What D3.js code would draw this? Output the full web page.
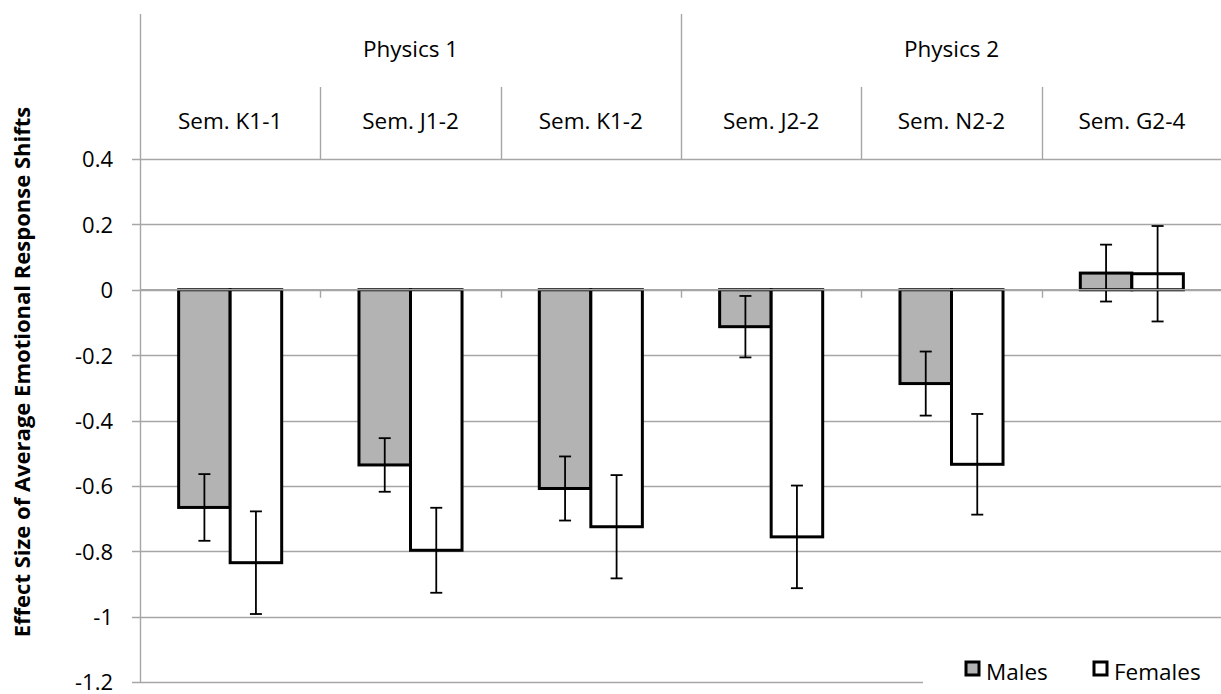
<!DOCTYPE html>
<html>
<head>
<meta charset="utf-8">
<script src="https://cdn.jsdelivr.net/npm/d3@7"></script>
<style>
  html, body { margin: 0; padding: 0; background: #fff; }
  svg { display: block; font-family: "Open Sans", sans-serif; }
</style>
</head>
<body>
<script>
const categories = ["Sem. K1-1", "Sem. J1-2", "Sem. K1-2", "Sem. J2-2", "Sem. N2-2", "Sem. G2-4"];
const groupNames = ["Physics 1", "Physics 2"];
const groupOf = [0, 0, 0, 1, 1, 1];
const seriesNames = ["Males", "Females"];
const males = [-0.666, -0.536, -0.608, -0.113, -0.287, 0.051];
const malesErr = [0.102, 0.082, 0.098, 0.094, 0.098, 0.087];
const females = [-0.835, -0.797, -0.725, -0.756, -0.534, 0.049];
const femalesErr = [0.157, 0.130, 0.158, 0.157, 0.154, 0.146];
const yTicks = [0.4, 0.2, 0, -0.2, -0.4, -0.6, -0.8, -1, -1.2];
const yTitle = "Effect Size of Average Emotional Response Shifts";

const W = 1221, H = 694;
const plotLeft = 140, plotRight = 1222, plotTop = 159, plotBottom = 682, headTop = 14;
const gridColor = "#a6a6a6";
const fills = { Males: "#b3b3b3", Females: "#ffffff" };

const svg = d3.select("body").append("svg")
    .attr("width", W)
    .attr("height", H);

const x = d3.scaleBand().domain(categories).range([plotLeft, plotRight]);
const xs = d3.scaleBand().domain(seriesNames).range([0, x.bandwidth()]).paddingOuter(0.75);
const y = d3.scaleLinear().domain([-1.2, 0.4]).range([plotBottom, plotTop]);

const fmt = d => String(+d.toFixed(1));

// gridlines
svg.append("g")
    .selectAll("line")
    .data(yTicks)
    .enter()
    .append("line")
    .attr("x1", plotLeft - 8)
    .attr("x2", W)
    .attr("y1", d => Math.round(y(d)) + 0.5)
    .attr("y2", d => Math.round(y(d)) + 0.5)
    .attr("stroke", gridColor)
    .attr("stroke-width", 1.4);

// y axis labels
const yAxis = svg.append("g")
    .attr("transform", `translate(${plotLeft},0)`)
    .call(d3.axisLeft(y).tickValues(yTicks).tickSize(0).tickPadding(27).tickFormat(fmt));
yAxis.select(".domain").remove();
yAxis.selectAll("text")
    .attr("font-family", "Open Sans")
    .attr("font-size", "22px")
    .attr("fill", "#000")
    .attr("dy", "0.36em");

// bars
const rows = categories.map((c, i) => ({
    cat: c,
    vals: [
        { s: "Males", v: males[i], e: malesErr[i] },
        { s: "Females", v: females[i], e: femalesErr[i] }
    ]
}));

const cells = svg.selectAll(".cell")
    .data(rows)
    .enter()
    .append("g")
    .attr("class", "cell")
    .attr("transform", d => `translate(${x(d.cat)},0)`);

cells.selectAll("rect")
    .data(d => d.vals)
    .enter()
    .append("rect")
    .attr("x", d => xs(d.s))
    .attr("y", d => y(Math.max(0, d.v)))
    .attr("width", xs.bandwidth())
    .attr("height", d => Math.abs(y(d.v) - y(0)))
    .attr("fill", d => fills[d.s])
    .attr("stroke", "#000")
    .attr("stroke-width", 3);

// category axis at zero, drawn above bars
svg.append("line")
    .attr("x1", plotLeft)
    .attr("x2", W)
    .attr("y1", y(0))
    .attr("y2", y(0))
    .attr("stroke", gridColor)
    .attr("stroke-width", 1.4);

svg.append("g")
    .selectAll("line")
    .data(categories.slice(1))
    .enter()
    .append("line")
    .attr("x1", d => Math.round(x(d)) + 0.5)
    .attr("x2", d => Math.round(x(d)) + 0.5)
    .attr("y1", y(0))
    .attr("y2", y(0) + 8)
    .attr("stroke", gridColor)
    .attr("stroke-width", 1.4);

// error bars
const err = cells.selectAll(".err")
    .data(d => d.vals)
    .enter()
    .append("g")
    .attr("class", "err")
    .attr("transform", d => `translate(${xs(d.s) + xs.bandwidth() / 2},0)`)
    .attr("stroke", "#000")
    .attr("stroke-width", 1.8);

err.append("line")
    .attr("y1", d => y(d.v + d.e))
    .attr("y2", d => y(d.v - d.e));
err.append("line")
    .attr("x1", -6).attr("x2", 6)
    .attr("y1", d => y(d.v + d.e))
    .attr("y2", d => y(d.v + d.e));
err.append("line")
    .attr("x1", -6).attr("x2", 6)
    .attr("y1", d => y(d.v - d.e))
    .attr("y2", d => y(d.v - d.e));

// value axis line
svg.append("line")
    .attr("x1", plotLeft + 0.5).attr("x2", plotLeft + 0.5)
    .attr("y1", headTop).attr("y2", plotBottom + 1)
    .attr("stroke", gridColor)
    .attr("stroke-width", 1.4);

// header: category separators and group separators
const headCat = 87;
svg.append("g")
    .selectAll("line")
    .data(categories.slice(1).map((c, i) => ({ c: c, newGroup: groupOf[i + 1] !== groupOf[i] })))
    .enter()
    .append("line")
    .attr("x1", d => Math.round(x(d.c)) + 0.5)
    .attr("x2", d => Math.round(x(d.c)) + 0.5)
    .attr("y1", d => d.newGroup ? headTop : headCat)
    .attr("y2", plotTop)
    .attr("stroke", gridColor)
    .attr("stroke-width", 1.4);

svg.append("g")
    .selectAll("text")
    .data(categories)
    .enter()
    .append("text")
    .attr("x", d => x(d) + x.bandwidth() / 2)
    .attr("y", 129)
    .attr("text-anchor", "middle")
    .attr("font-size", "22.5px")
    .text(d => d);

svg.append("g")
    .selectAll("text")
    .data(groupNames)
    .enter()
    .append("text")
    .attr("x", (d, gi) => {
        const idx = categories.filter((c, i) => groupOf[i] === gi);
        return (x(idx[0]) + x(idx[idx.length - 1]) + x.bandwidth()) / 2;
    })
    .attr("y", 57)
    .attr("text-anchor", "middle")
    .attr("font-size", "22.5px")
    .text(d => d);

// y title
const title = svg.append("text")
    .attr("transform", "translate(30,372) rotate(-90)")
    .attr("text-anchor", "middle")
    .attr("font-weight", "bold")
    .attr("font-size", "22px")
    .text(yTitle);
const tl = title.node().getComputedTextLength();
title.attr("font-size", (22 * 531 / tl).toFixed(2) + "px");

// legend
const legend = svg.append("g");
legend.append("rect")
    .attr("x", 923).attr("y", 645)
    .attr("width", W - 923).attr("height", H - 645)
    .attr("fill", "#fff");

const legX = [966, 1094];
const li = legend.selectAll(".li")
    .data(seriesNames)
    .enter()
    .append("g")
    .attr("class", "li")
    .attr("transform", (d, i) => `translate(${legX[i]},662)`);
li.append("rect")
    .attr("width", 13).attr("height", 13)
    .attr("fill", d => fills[d])
    .attr("stroke", "#000")
    .attr("stroke-width", 3);
li.append("text")
    .attr("x", 20)
    .attr("y", 18)
    .attr("font-size", "22.5px")
    .text(d => d);
</script>
</body>
</html>
